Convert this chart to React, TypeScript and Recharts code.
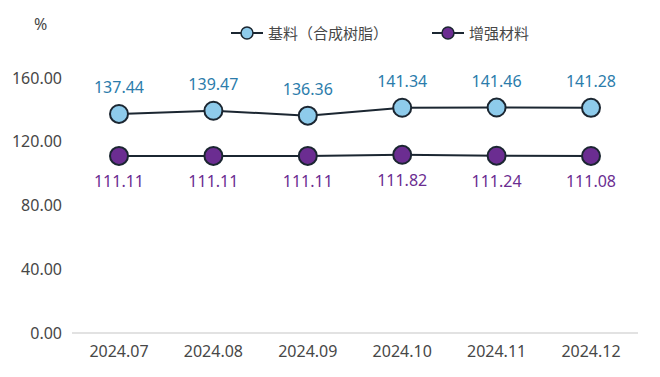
import React from "react";
import { LineChart, Line, XAxis, YAxis, LabelList } from "recharts";

const categories = ["2024.07", "2024.08", "2024.09", "2024.10", "2024.11", "2024.12"];
const baseResin = [137.44, 139.47, 136.36, 141.34, 141.46, 141.28];
const reinforcement = [111.11, 111.11, 111.11, 111.82, 111.24, 111.08];
const yTicks = [0, 40, 80, 120, 160];
const seriesNames = ["基料（合成树脂）", "增强材料"];

const data = categories.map((c, i) => ({ month: c, base: baseResin[i], reinf: reinforcement[i] }));

const FONT = "'Noto Sans', 'Noto Sans CJK SC', sans-serif";
const BLUE_FILL = "#8ecbeb";
const PURPLE_FILL = "#6b2d91";
const STROKE = "#1b2631";
const TEXT = "#474747";

const LegendIcon = ({ fill }: { fill: string }) => (
  <svg width={32} height={16} style={{ display: "block" }}>
    <line x1={0} y1={8} x2={32} y2={8} stroke={STROKE} strokeWidth={2} />
    <circle cx={16} cy={8} r={6} fill={fill} stroke={STROKE} strokeWidth={1.5} />
  </svg>
);

export default function App() {
  return (
    <div style={{ position: "relative", width: 660, height: 377, background: "#fff", fontFamily: FONT }}>
      <style>{`body{margin:0}`}</style>
      <div style={{ position: "absolute", left: 34, top: 13, fontSize: 16, color: TEXT }}>%</div>
      <div style={{ position: "absolute", left: 231, top: 22, display: "flex", alignItems: "center", fontSize: 15, color: TEXT }}>
        <LegendIcon fill={BLUE_FILL} />
        <span style={{ marginLeft: 5 }}>{seriesNames[0]}</span>
      </div>
      <div style={{ position: "absolute", left: 432, top: 22, display: "flex", alignItems: "center", fontSize: 15, color: TEXT }}>
        <LegendIcon fill={PURPLE_FILL} />
        <span style={{ marginLeft: 5 }}>{seriesNames[1]}</span>
      </div>
      <LineChart width={660} height={377} data={data} margin={{ top: 78, right: 22, bottom: 0, left: 0 }}>
        <XAxis
          dataKey="month"
          height={44}
          padding={{ left: 47, right: 47 }}
          axisLine={{ stroke: "#d9d9d9", strokeWidth: 1.5 }}
          tickLine={false}
          tickSize={0}
          tickMargin={13}
          tick={{ fill: TEXT, fontSize: 16, fontFamily: FONT }}
        />
        <YAxis
          width={72}
          domain={[0, 160]}
          ticks={yTicks}
          axisLine={false}
          tickLine={false}
          tickSize={0}
          tickMargin={10}
          tickFormatter={(v: number) => v.toFixed(2)}
          tick={{ fill: TEXT, fontSize: 16, fontFamily: FONT }}
        />
        <Line
          dataKey="base"
          name={seriesNames[0]}
          stroke={STROKE}
          strokeWidth={2}
          isAnimationActive={false}
          dot={{ r: 9, fill: BLUE_FILL, stroke: STROKE, strokeWidth: 2 }}
        >
          <LabelList dataKey="base" position="top" offset={21} fill="#2b7cab" fontSize={16} fontFamily={FONT} formatter={(v: number) => v.toFixed(2)} />
        </Line>
        <Line
          dataKey="reinf"
          name={seriesNames[1]}
          stroke={STROKE}
          strokeWidth={2}
          isAnimationActive={false}
          dot={{ r: 9, fill: PURPLE_FILL, stroke: STROKE, strokeWidth: 2 }}
        >
          <LabelList dataKey="reinf" position="bottom" offset={20} fill="#6b2d91" fontSize={16} fontFamily={FONT} formatter={(v: number) => v.toFixed(2)} />
        </Line>
      </LineChart>
    </div>
  );
}
